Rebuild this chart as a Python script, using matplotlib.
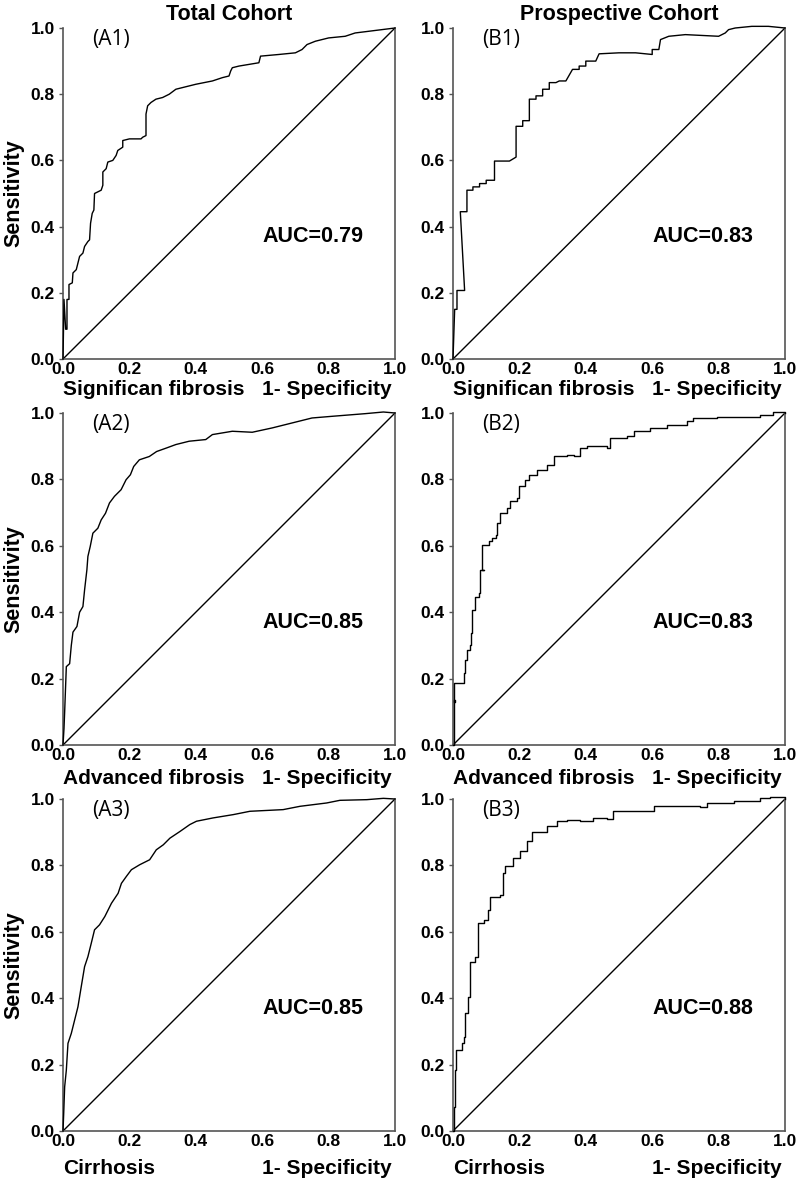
import matplotlib.pyplot as plt
import numpy as np

plt.rcParams['font.family'] = ['Liberation Sans', 'DejaVu Sans']

# ROC vertices (1 - specificity, sensitivity)
a1_fpr = [0, 0.003, 0.008, 0.012, 0.012, 0.018, 0.018, 0.028, 0.03, 0.04, 0.045, 0.05, 0.06, 0.065,
          0.075, 0.08, 0.083, 0.088, 0.093, 0.095, 0.115, 0.12, 0.12, 0.13, 0.135, 0.15, 0.16, 0.165,
          0.18, 0.18, 0.2, 0.235, 0.24, 0.25, 0.25, 0.255, 0.265, 0.28, 0.3, 0.32, 0.34, 0.36, 0.4,
          0.45, 0.48, 0.5, 0.505, 0.51, 0.53, 0.56, 0.59, 0.595, 0.65, 0.7, 0.72, 0.735, 0.76, 0.8,
          0.85, 0.88, 0.92, 0.96, 1.0]
a1_tpr = [0, 0.18, 0.09, 0.09, 0.18, 0.18, 0.225, 0.23, 0.26, 0.27, 0.29, 0.31, 0.32, 0.34,
          0.355, 0.36, 0.41, 0.44, 0.45, 0.50, 0.51, 0.525, 0.565, 0.575, 0.595, 0.60, 0.615, 0.63,
          0.64, 0.66, 0.665, 0.665, 0.67, 0.675, 0.74, 0.765, 0.775, 0.785, 0.79, 0.80, 0.815, 0.82, 0.83,
          0.84, 0.85, 0.855, 0.87, 0.88, 0.885, 0.89, 0.895, 0.915, 0.92, 0.925, 0.935, 0.95, 0.96, 0.97,
          0.975, 0.985, 0.99, 0.995, 1.0]

b1_fpr = [0, 0.005, 0.012, 0.012, 0.035, 0.022, 0.042, 0.042, 0.06, 0.06, 0.08, 0.08, 0.1, 0.1,
          0.125, 0.125, 0.17, 0.19, 0.19, 0.21, 0.21, 0.23, 0.23, 0.25, 0.25, 0.27, 0.27, 0.29, 0.29,
          0.31, 0.32, 0.34, 0.36, 0.38, 0.38, 0.4, 0.4, 0.43, 0.44, 0.5, 0.55, 0.6, 0.6, 0.62, 0.625,
          0.65, 0.7, 0.8, 0.82, 0.83, 0.85, 0.9, 0.95, 1.0]
b1_tpr = [0, 0.15, 0.15, 0.207, 0.207, 0.445, 0.445, 0.51, 0.51, 0.52, 0.52, 0.53, 0.53, 0.54,
          0.54, 0.598, 0.598, 0.61, 0.703, 0.703, 0.72, 0.72, 0.785, 0.785, 0.795, 0.795, 0.815, 0.815, 0.835,
          0.835, 0.84, 0.84, 0.875, 0.875, 0.885, 0.885, 0.9, 0.9, 0.922, 0.925, 0.925, 0.92, 0.935, 0.935, 0.965,
          0.975, 0.98, 0.975, 0.985, 0.995, 1.0, 1.005, 1.005, 1.0]

a2_fpr = [0, 0.003, 0.005, 0.01, 0.02, 0.025, 0.03, 0.042, 0.05, 0.06, 0.065, 0.072, 0.075, 0.082,
          0.09, 0.105, 0.115, 0.128, 0.14, 0.155, 0.175, 0.19, 0.203, 0.213, 0.23, 0.26, 0.282, 0.31,
          0.34, 0.38, 0.43, 0.45, 0.51, 0.57, 0.63, 0.69, 0.75, 0.81, 0.91, 0.965, 1.0]
a2_tpr = [0, 0.05, 0.1, 0.236, 0.245, 0.30, 0.34, 0.357, 0.40, 0.417, 0.467, 0.528, 0.568, 0.598,
          0.638, 0.653, 0.678, 0.698, 0.729, 0.749, 0.769, 0.799, 0.814, 0.839, 0.859, 0.869, 0.884, 0.894,
          0.905, 0.915, 0.92, 0.935, 0.945, 0.942, 0.955, 0.97, 0.985, 0.99, 0.998, 1.003, 1.0]

b2_fpr = [0, 0.002, 0.007, 0.004, 0.03, 0.032, 0.037, 0.042, 0.052, 0.054, 0.057, 0.067, 0.077, 0.08,
          0.092, 0.087, 0.107, 0.117, 0.13, 0.134, 0.142, 0.162, 0.172, 0.193, 0.2, 0.218, 0.228, 0.253,
          0.283, 0.303, 0.343, 0.363, 0.383, 0.403, 0.463, 0.473, 0.524, 0.544, 0.594, 0.644, 0.704, 0.724,
          0.794, 0.865, 0.925, 0.965, 1.0]
b2_tpr = [0, 0.136, 0.13, 0.188, 0.188, 0.216, 0.256, 0.286, 0.30, 0.337, 0.407, 0.447, 0.457, 0.528,
          0.528, 0.603, 0.613, 0.623, 0.633, 0.668, 0.698, 0.714, 0.734, 0.744, 0.779, 0.799, 0.814, 0.829,
          0.844, 0.869, 0.874, 0.869, 0.894, 0.9, 0.894, 0.925, 0.93, 0.945, 0.955, 0.965, 0.975, 0.985,
          0.988, 0.988, 0.995, 1.002, 1.0]

a3_fpr = [0, 0.002, 0.005, 0.01, 0.015, 0.025, 0.035, 0.045, 0.055, 0.065, 0.075, 0.085, 0.095, 0.11,
          0.126, 0.146, 0.166, 0.176, 0.191, 0.206, 0.231, 0.261, 0.281, 0.302, 0.322, 0.352, 0.382, 0.402,
          0.452, 0.513, 0.563, 0.663, 0.714, 0.794, 0.834, 0.915, 0.965, 1.0]
a3_tpr = [0, 0.05, 0.133, 0.183, 0.264, 0.294, 0.334, 0.374, 0.435, 0.495, 0.525, 0.565, 0.606, 0.621,
          0.646, 0.686, 0.716, 0.746, 0.767, 0.787, 0.802, 0.817, 0.847, 0.862, 0.882, 0.902, 0.923, 0.933,
          0.943, 0.953, 0.963, 0.968, 0.978, 0.988, 0.996, 0.998, 1.002, 1.0]

b3_fpr = [0, 0.002, 0.005, 0.01, 0.022, 0.027, 0.034, 0.037, 0.044, 0.045, 0.05, 0.052, 0.067, 0.074,
          0.074, 0.092, 0.104, 0.112, 0.142, 0.152, 0.157, 0.182, 0.203, 0.223, 0.238, 0.263, 0.283, 0.313,
          0.343, 0.383, 0.423, 0.463, 0.483, 0.544, 0.604, 0.684, 0.744, 0.764, 0.845, 0.905, 0.925, 0.955, 1.0]
b3_tpr = [0, 0.072, 0.183, 0.243, 0.243, 0.264, 0.284, 0.354, 0.354, 0.404, 0.435, 0.51, 0.525, 0.54,
          0.626, 0.636, 0.666, 0.706, 0.711, 0.777, 0.797, 0.822, 0.842, 0.872, 0.902, 0.902, 0.918, 0.933,
          0.938, 0.933, 0.943, 0.94, 0.963, 0.963, 0.978, 0.978, 0.975, 0.988, 0.993, 0.993, 1.003, 1.005, 1.0]

panel_names = [['(A1)', '(B1)'], ['(A2)', '(B2)'], ['(A3)', '(B3)']]
auc_labels = [['AUC=0.79', 'AUC=0.83'], ['AUC=0.85', 'AUC=0.83'], ['AUC=0.85', 'AUC=0.88']]
row_outcomes = ['Significan fibrosis', 'Advanced fibrosis', 'Cirrhosis']
col_titles = ['Total Cohort', 'Prospective Cohort']
curves = [[(a1_fpr, a1_tpr), (b1_fpr, b1_tpr)],
          [(a2_fpr, a2_tpr), (b2_fpr, b2_tpr)],
          [(a3_fpr, a3_tpr), (b3_fpr, b3_tpr)]]
# the prospective-cohort curves in rows 2 and 3 are clear staircases
stepped = [[False, False], [False, True], [False, True]]

W, H = 797, 1180
fig = plt.figure(figsize=(W / 100, H / 100), dpi=100)

col_left = [63, 453]
row_top = [28, 413, 799]
row_bottom = [359, 745, 1131]
label_gap = [31, 33, 37]
ax_w = 332

for r in range(3):
    for c in range(2):
        ax = fig.add_axes([col_left[c] / W, 1 - row_bottom[r] / H,
                           ax_w / W, (row_bottom[r] - row_top[r]) / H])
        fpr, tpr = curves[r][c]
        ds = 'steps-post' if stepped[r][c] else 'default'
        ax.plot(fpr, tpr, color='black', lw=1.0, clip_on=False, zorder=3, drawstyle=ds)
        ax.plot([0, 1], [0, 1], color='black', lw=1.0)
        ax.set_xlim(0, 1)
        ax.set_ylim(0, 1)
        ticks = np.arange(0, 1.01, 0.2)
        ax.set_xticks(ticks)
        ax.set_yticks(ticks)
        ax.set_xticklabels([f'{v:.1f}' for v in ticks])
        ax.set_yticklabels([f'{v:.1f}' for v in ticks])
        ax.tick_params(axis='x', length=0, pad=2, labelsize=12.5)
        ax.tick_params(axis='y', length=3, width=1, pad=3, labelsize=12.5, color='#555555')
        for lab in ax.get_xticklabels() + ax.get_yticklabels():
            lab.set_fontweight('bold')
        ax.spines['top'].set_visible(False)
        for s in ['left', 'right', 'bottom']:
            ax.spines[s].set_color('#555555')
            ax.spines[s].set_linewidth(1.2)

        gap = label_gap[r] / ax_w
        ax.text(0, -gap, row_outcomes[r], transform=ax.transAxes, ha='left', va='center',
                fontsize=15, fontweight='bold')
        ax.text(0.99, -gap, '1- Specificity', transform=ax.transAxes, ha='right', va='center',
                fontsize=15, fontweight='bold')
        ax.text(0.087, 0.965, panel_names[r][c], transform=ax.transAxes, ha='left', va='center',
                fontsize=15, family=['Open Sans', 'DejaVu Sans'])
        ax.text(0.6, 0.37, auc_labels[r][c], transform=ax.transAxes, ha='left', va='center',
                fontsize=15.5, fontweight='bold')
        if c == 0:
            ax.set_ylabel('Sensitivity', fontsize=15.5, fontweight='bold', labelpad=4)
        if r == 0:
            ax.set_title(col_titles[c], fontsize=15.5, fontweight='bold', pad=6)

fig.savefig('out.png', dpi=100)
